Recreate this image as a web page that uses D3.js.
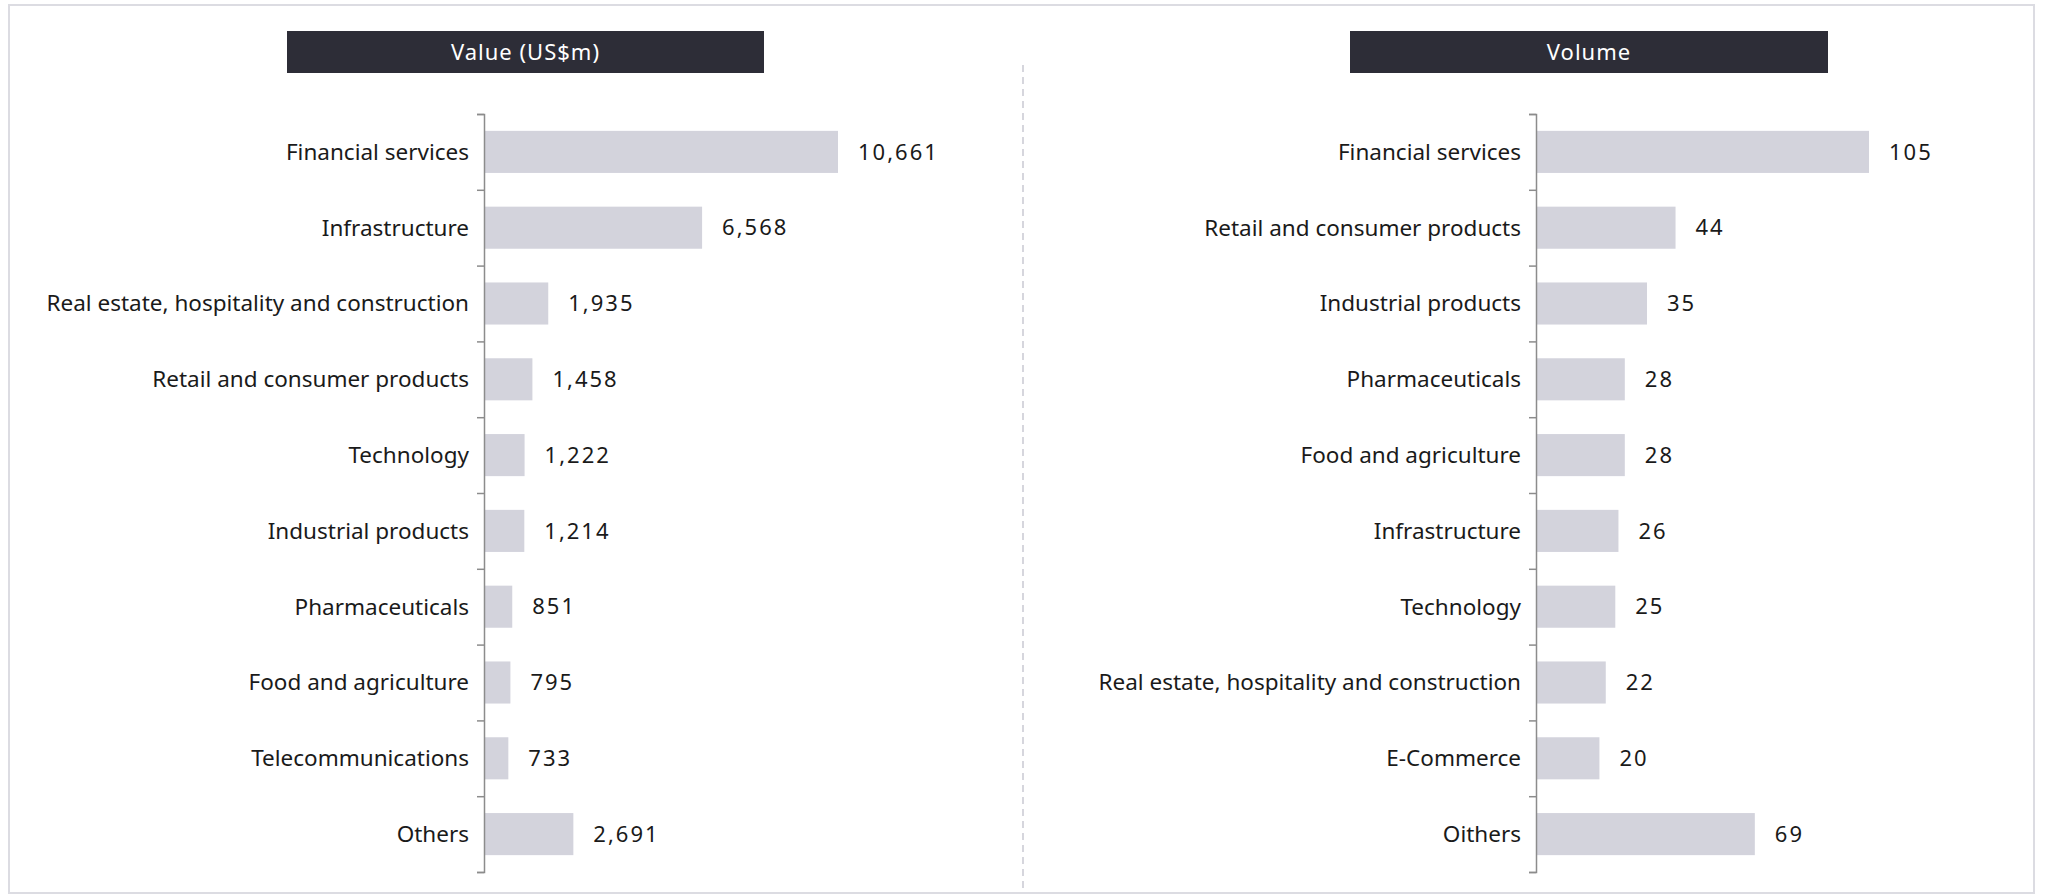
<!DOCTYPE html>
<html>
<head>
<meta charset="utf-8">
<script src="https://cdn.jsdelivr.net/npm/d3@7"></script>
<style>
  body { margin: 0; background: #fff; }
  text { font-family: "Noto Sans", "Open Sans", sans-serif; }
</style>
</head>
<body>
<svg id="chart" width="2045" height="895"></svg>
<script>
// value panel
var valueCategories = ["Financial services", "Infrastructure", "Real estate, hospitality and construction",
  "Retail and consumer products", "Technology", "Industrial products", "Pharmaceuticals",
  "Food and agriculture", "Telecommunications", "Others"];
var valueAmounts = [10661, 6568, 1935, 1458, 1222, 1214, 851, 795, 733, 2691];

// volume panel
var volumeCategories = ["Financial services", "Retail and consumer products", "Industrial products",
  "Pharmaceuticals", "Food and agriculture", "Infrastructure", "Technology",
  "Real estate, hospitality and construction", "E-Commerce", "Oithers"];
var volumeCounts = [105, 44, 35, 28, 28, 26, 25, 22, 20, 69];

var panelTitles = ["Value (US$m)", "Volume"];

var svg = d3.select("#chart");

// outer frame
svg.append("rect")
  .attr("x", 9).attr("y", 5).attr("width", 2025).attr("height", 888)
  .attr("fill", "none").attr("stroke", "#dcdce2").attr("stroke-width", 2);

// dashed divider
svg.append("line")
  .attr("x1", 1023).attr("x2", 1023).attr("y1", 65).attr("y2", 893)
  .attr("stroke", "#d6d6dd").attr("stroke-width", 2).attr("stroke-dasharray", "7,5");

function panel(opts) {
  var g = svg.append("g");

  // title box
  g.append("rect")
    .attr("x", opts.boxX).attr("y", 31).attr("width", opts.boxW).attr("height", 42)
    .attr("fill", "#2d2d37");
  g.append("text")
    .attr("x", opts.boxX + opts.boxW / 2).attr("y", 52)
    .attr("dy", "0.35em").attr("text-anchor", "middle")
    .attr("fill", "#fff").style("font-size", "22px").style("letter-spacing", "1px")
    .text(opts.title);

  var y = d3.scaleBand()
    .domain(opts.categories)
    .range([114, 872])
    .paddingInner(0.445)
    .paddingOuter(0.2225);

  var x = d3.scaleLinear()
    .domain([0, d3.max(opts.values)])
    .range([opts.axisX, opts.axisX + opts.maxW]);

  var rows = opts.categories.map(function(c, i) { return {cat: c, val: opts.values[i]}; });

  g.selectAll(".bar").data(rows).enter().append("rect")
    .attr("class", "bar")
    .attr("x", x(0))
    .attr("y", function(d) { return y(d.cat); })
    .attr("width", function(d) { return x(d.val) - x(0); })
    .attr("height", y.bandwidth())
    .attr("fill", "#d3d3dc");

  g.selectAll(".val").data(rows).enter().append("text")
    .attr("class", "val")
    .attr("x", function(d) { return x(d.val) + 20; })
    .attr("y", function(d) { return y(d.cat) + y.bandwidth() / 2; })
    .attr("dy", "0.35em")
    .attr("fill", "#1a1a1a").style("font-size", "22px").style("letter-spacing", "2px")
    .text(function(d) { return d3.format(",")(d.val); });

  g.selectAll(".cat").data(rows).enter().append("text")
    .attr("class", "cat")
    .attr("x", opts.axisX - 15)
    .attr("y", function(d) { return y(d.cat) + y.bandwidth() / 2; })
    .attr("dy", "0.35em").attr("text-anchor", "end")
    .attr("fill", "#1a1a1a").style("font-size", "22.5px")
    .text(function(d) { return d.cat; });

  // axis with ticks between categories
  var edges = d3.scaleLinear().domain([0, opts.categories.length]).range(y.range());
  var ax = g.append("g")
    .attr("transform", "translate(" + opts.axisX + ",0)")
    .call(d3.axisLeft(edges).ticks(opts.categories.length).tickSize(7).tickFormat(""));
  ax.selectAll("path, line").attr("stroke", "#8c8c8c").attr("stroke-width", 1.5);
}

panel({title: panelTitles[0], categories: valueCategories, values: valueAmounts,
  boxX: 287, boxW: 477, axisX: 484, maxW: 354});
panel({title: panelTitles[1], categories: volumeCategories, values: volumeCounts,
  boxX: 1350, boxW: 478, axisX: 1536, maxW: 333});
</script>
</body>
</html>
